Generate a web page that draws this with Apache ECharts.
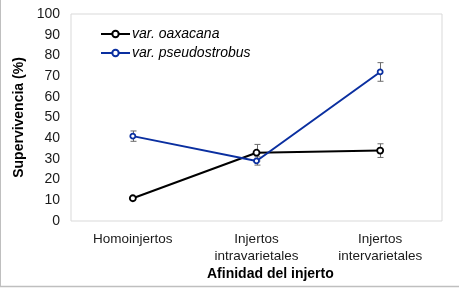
<!DOCTYPE html>
<html><head><meta charset="utf-8">
<script src="https://cdn.jsdelivr.net/npm/echarts@6/dist/echarts.min.js"></script>
<style>html,body{margin:0;padding:0;background:#fff}#c{width:459px;height:288px}</style>
</head><body><div id="c"></div>
<script>
var categories = ['Homoinjertos', 'Injertos\nintravarietales', 'Injertos\nintervarietales'];
var seriesNames = ['var. oaxacana', 'var. pseudostrobus'];
var oaxacana = [11, 33, 34];
var oaxacanaErr = [0, 4, 3.3];
var pseudostrobus = [41, 29, 72];
var pseudostrobusErr = [2.5, 2, 4.5];
var yTicks = [0, 10, 20, 30, 40, 50, 60, 70, 80, 90, 100];

var font = 'Arial, "Liberation Sans", sans-serif';
function errSeries(vals, errs, z) {
  return {
    type: 'custom', z: z, silent: true,
    data: vals.map(function (v, i) { return [i, v, errs[i]]; }),
    renderItem: function (params, api) {
      var e = api.value(2);
      if (!e) return null;
      var top = api.coord([api.value(0), api.value(1) + e]);
      var bot = api.coord([api.value(0), api.value(1) - e]);
      var x = Math.round(top[0]) + 0.5, hw = 3;
      var st = { stroke: '#6b6b6b', lineWidth: 1 };
      return { type: 'group', children: [
        { type: 'line', shape: { x1: x, y1: top[1], x2: x, y2: bot[1] }, style: st },
        { type: 'line', shape: { x1: x - hw, y1: top[1], x2: x + hw, y2: top[1] }, style: st },
        { type: 'line', shape: { x1: x - hw, y1: bot[1], x2: x + hw, y2: bot[1] }, style: st }
      ]};
    }
  };
}
var chart = echarts.init(document.getElementById('c'));
chart.setOption({
  animation: false,
  backgroundColor: '#fff',
  grid: { left: 71, right: 17, top: 14, bottom: 67, show: true, borderColor: '#d9d9d9', borderWidth: 1 },
  legend: {
    orient: 'vertical', left: 95, top: 22, itemWidth: 29, itemHeight: 8, itemGap: 5,
    data: seriesNames,
    textStyle: { fontFamily: font, fontSize: 14, fontStyle: 'italic', color: '#000', padding: [0, 0, 0, -3] }
  },
  xAxis: {
    type: 'category', data: categories, boundaryGap: true,
    axisLine: { show: false }, axisTick: { show: false },
    axisLabel: { fontFamily: font, fontSize: 13.5, color: '#1a1a1a', margin: 10, lineHeight: 17 }
  },
  yAxis: {
    type: 'value', min: 0, max: 100, interval: 10,
    name: 'Supervivencia (%)', nameLocation: 'middle', nameGap: 41,
    nameTextStyle: { fontFamily: font, fontSize: 14, fontWeight: 'bold', color: '#000' },
    axisLine: { show: false }, axisTick: { show: false }, splitLine: { show: false },
    axisLabel: { fontFamily: font, fontSize: 14, color: '#1a1a1a', margin: 11,
      formatter: function (v) { return yTicks.indexOf(v) >= 0 ? String(v) : ''; } }
  },
  graphic: [
    { type: 'text', left: 207, top: 267, style: { text: 'Afinidad del injerto', font: 'bold 14px ' + font, fill: '#000' } },
    { type: 'line', shape: { x1: 0.5, y1: 0, x2: 0.5, y2: 287 }, style: { stroke: '#bfbfbf', lineWidth: 1 } },
    { type: 'line', shape: { x1: 0, y1: 286.5, x2: 459, y2: 286.5 }, style: { stroke: '#bfbfbf', lineWidth: 1.5 } }
  ],
  series: [
    errSeries(oaxacana, oaxacanaErr, 1),
    errSeries(pseudostrobus, pseudostrobusErr, 1),
    { name: seriesNames[0], type: 'line', data: oaxacana, z: 3,
      lineStyle: { color: '#000', width: 2 }, itemStyle: { color: '#fff', borderColor: '#000', borderWidth: 1.8 },
      symbol: 'circle', symbolSize: 6, showAllSymbol: true },
    { name: seriesNames[1], type: 'line', data: pseudostrobus, z: 4,
      lineStyle: { color: '#0a2fa0', width: 2 }, itemStyle: { color: '#fff', borderColor: '#0a2fa0', borderWidth: 1.8 },
      symbol: 'circle', symbolSize: 5, showAllSymbol: true }
  ]
});
</script></body></html>
